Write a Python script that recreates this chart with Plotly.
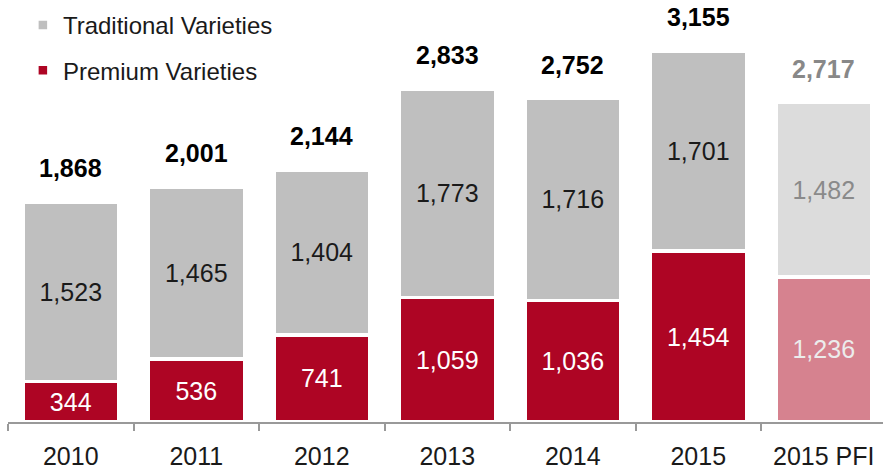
import plotly.graph_objects as go

categories = ["2010", "2011", "2012", "2013", "2014", "2015", "2015 PFI"]
premium = [344, 536, 741, 1059, 1036, 1454, 1236]
traditional = [1523, 1465, 1404, 1773, 1716, 1701, 1482]
totals = [1868, 2001, 2144, 2833, 2752, 3155, 2717]

grey_colors = ["#BFBFBF"] * 6 + ["#DCDCDC"]
red_colors = ["#AE0524"] * 6 + ["#D6828F"]
grey_text = ["#1a1a1a"] * 6 + ["#8a8a8a"]
red_text = ["#ffffff"] * 6 + ["#ececec"]
total_colors = ["#000000"] * 6 + ["#888888"]

FONT = "Liberation Sans, Arial, sans-serif"

fig = go.Figure()
fig.add_trace(go.Bar(
    x=categories, y=premium, name="Premium Varieties", legendgroup="p",
    legendrank=2,
    marker=dict(color=red_colors, line=dict(color="white", width=3.5)),
    text=[f"{v:,}" for v in premium], textposition="inside",
    insidetextanchor="middle", textangle=0, constraintext="none",
    textfont=dict(family=FONT, size=25, color=red_text),
    width=0.765, hoverinfo="skip",
))
fig.add_trace(go.Bar(
    x=categories, y=traditional, name="Traditional Varieties", legendgroup="t",
    legendrank=1,
    marker=dict(color=grey_colors, line=dict(color="white", width=3.5)),
    text=[f"{v:,}" for v in traditional], textposition="inside",
    insidetextanchor="middle", textangle=0, constraintext="none",
    textfont=dict(family=FONT, size=25, color=grey_text),
    width=0.765, hoverinfo="skip",
))

for i, (t, col) in enumerate(zip(totals, total_colors)):
    fig.add_annotation(x=i, y=t, xref="x", yref="y", text=f"<b>{t:,}</b>",
                       showarrow=False, yanchor="middle", yshift=34,
                       font=dict(family=FONT, size=25, color=col))

fig.update_layout(
    width=883, height=470,
    margin=dict(l=8, r=0, t=0, b=48),
    barmode="stack",
    plot_bgcolor="white", paper_bgcolor="white",
    font=dict(family=FONT, size=24, color="#1a1a1a"),
    showlegend=True,
    legend=dict(x=0.017, y=0.993, xanchor="left", yanchor="top",
                traceorder="grouped", tracegroupgap=11,
                font=dict(family=FONT, size=24, color="#1a1a1a"),
                bgcolor="rgba(0,0,0,0)"),
    xaxis=dict(type="category", range=[-0.5, -0.5 + 875 / 125.5], showline=True,
               linecolor="#999999", linewidth=1.5, ticks="outside",
               tickson="boundaries", ticklen=7, tickcolor="#999999",
               tickwidth=1.5, ticklabelstandoff=11,
               tickfont=dict(family=FONT, size=25, color="#1a1a1a"),
               showgrid=False, zeroline=False, fixedrange=True),
    yaxis=dict(range=[0, 3591], visible=False, showgrid=False,
               zeroline=False, fixedrange=True),
)

fig.write_html("out.html")
